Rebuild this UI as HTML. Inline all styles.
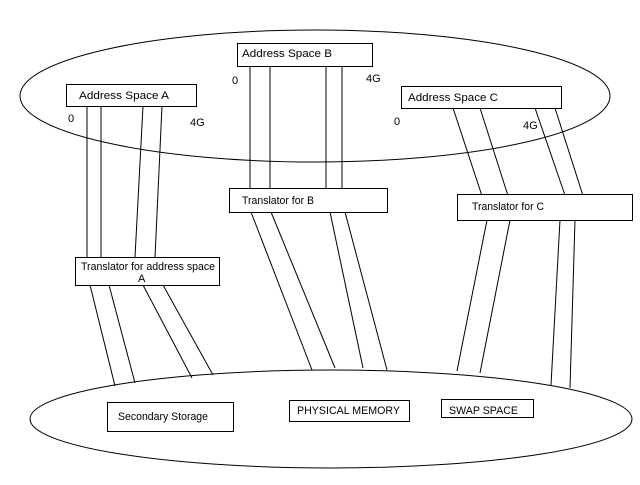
<!DOCTYPE html>
<html><head><style>
body{margin:0;background:#fff}
svg text{font-family:"Liberation Sans",sans-serif;font-size:11px;fill:#000}
</style></head><body>
<svg width="640" height="480" xmlns="http://www.w3.org/2000/svg">
<rect width="640" height="480" fill="#fff"/>
<g fill="none" stroke="#000" stroke-width="1">
<ellipse cx="315" cy="96" rx="295" ry="66"/>
<ellipse cx="331" cy="419" rx="301" ry="49"/>
<line x1="87" y1="106" x2="87" y2="257"/>
<line x1="101" y1="106" x2="101" y2="257"/>
<line x1="143" y1="106" x2="135" y2="257"/>
<line x1="162" y1="106" x2="155" y2="257"/>
<line x1="90" y1="285" x2="115" y2="386"/>
<line x1="109" y1="285" x2="135" y2="383"/>
<line x1="143" y1="285" x2="192" y2="378"/>
<line x1="163" y1="285" x2="213" y2="375"/>
<line x1="250" y1="66" x2="250" y2="188"/>
<line x1="270" y1="66" x2="270" y2="188"/>
<line x1="326" y1="66" x2="326" y2="188"/>
<line x1="342" y1="66" x2="342" y2="188"/>
<line x1="251" y1="212" x2="312" y2="370"/>
<line x1="271" y1="212" x2="335" y2="368"/>
<line x1="330" y1="212" x2="363" y2="368"/>
<line x1="345" y1="212" x2="387" y2="370"/>
<line x1="453" y1="108" x2="484" y2="202"/>
<line x1="480" y1="108" x2="510" y2="202"/>
<line x1="535" y1="108" x2="568" y2="204"/>
<line x1="555" y1="108" x2="585" y2="202"/>
<line x1="487" y1="220" x2="457" y2="371"/>
<line x1="510" y1="220" x2="480" y2="373"/>
<line x1="560" y1="220" x2="551" y2="385"/>
<line x1="575" y1="220" x2="570" y2="388"/>
</g>
<g fill="#fff" stroke="#000">
<rect x="66.5" y="84.5" width="130" height="22"/>
<rect x="237.5" y="43.5" width="135" height="23"/>
<rect x="401.5" y="86.5" width="160" height="22"/>
<rect x="229.5" y="188.5" width="158" height="24"/>
<rect x="457.5" y="194.5" width="175" height="26"/>
<rect x="75.5" y="257.5" width="144" height="28"/>
<rect x="107.5" y="402.5" width="126" height="29"/>
<rect x="289.5" y="400.5" width="120" height="21"/>
<rect x="441.5" y="399.5" width="92" height="18"/>
</g>
<text x="79" y="99" textLength="90" lengthAdjust="spacingAndGlyphs">Address Space A</text>
<text x="242" y="57" textLength="90" lengthAdjust="spacingAndGlyphs">Address Space B</text>
<text x="408" y="101" textLength="90" lengthAdjust="spacingAndGlyphs">Address Space C</text>
<text x="242" y="204" textLength="72" lengthAdjust="spacingAndGlyphs">Translator for B</text>
<text x="472" y="210" textLength="72" lengthAdjust="spacingAndGlyphs">Translator for C</text>
<text x="81" y="270" textLength="134" lengthAdjust="spacingAndGlyphs">Translator for address space</text>
<text x="138" y="282">A</text>
<text x="118" y="420" textLength="90" lengthAdjust="spacingAndGlyphs">Secondary Storage</text>
<text x="297" y="414" textLength="103" lengthAdjust="spacingAndGlyphs">PHYSICAL MEMORY</text>
<text x="449" y="414" textLength="69" lengthAdjust="spacingAndGlyphs">SWAP SPACE</text>
<text x="68" y="122">0</text>
<text x="190" y="126">4G</text>
<text x="232" y="84">0</text>
<text x="366" y="82">4G</text>
<text x="394" y="125">0</text>
<text x="523" y="129">4G</text>
</svg>
</body></html>
